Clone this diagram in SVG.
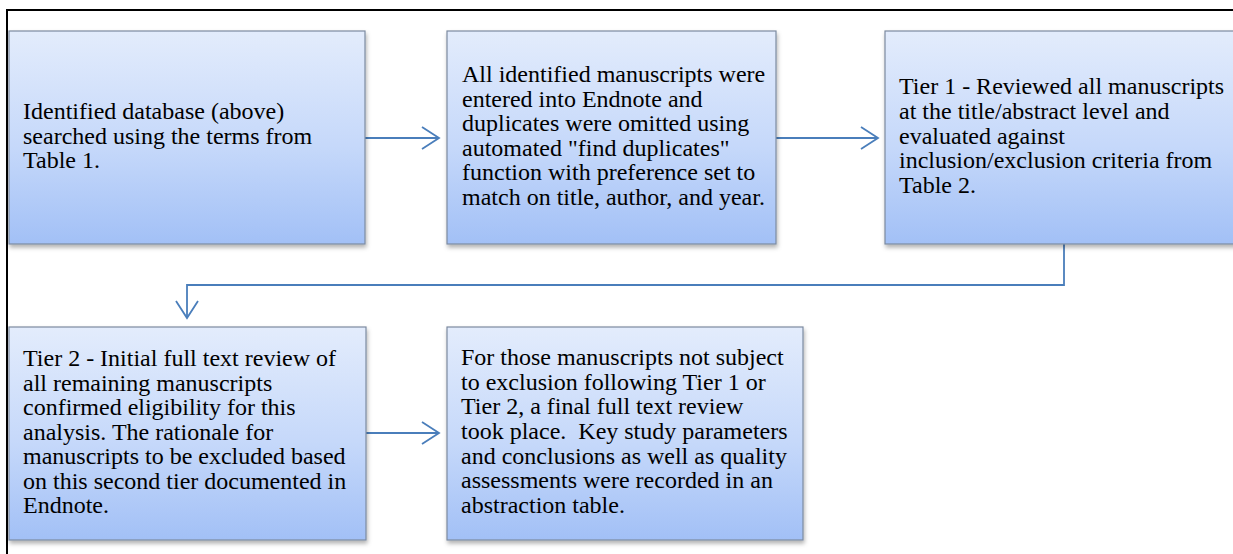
<svg xmlns="http://www.w3.org/2000/svg" width="1233" height="554" viewBox="0 0 1233 554">
<defs>
<linearGradient id="g" x1="0" y1="0" x2="0" y2="1">
<stop offset="0" stop-color="#e3ecfc"/>
<stop offset="0.55" stop-color="#c5d8fa"/>
<stop offset="1" stop-color="#a2c0f6"/>
</linearGradient>
<filter id="sh" x="-5%" y="-5%" width="115%" height="120%">
<feDropShadow dx="1" dy="3" stdDeviation="2" flood-color="#000" flood-opacity="0.3"/>
</filter>
<marker id="ah" viewBox="0 0 20 24" refX="18" refY="12" markerWidth="20" markerHeight="24" markerUnits="userSpaceOnUse" orient="auto">
<path d="M1,1 L18,12 L1,23" fill="none" stroke="#4a7ebb" stroke-width="1.8"/>
</marker>
<style>
.box{fill:url(#g);stroke:#7c8aa0;stroke-width:1.2;filter:url(#sh)}
.t{font-family:"Liberation Serif","Times New Roman",serif;font-size:24px;fill:#000;white-space:pre}
.c{fill:none;stroke:#4a7ebb;stroke-width:1.8}
</style>
</defs>
<rect x="0" y="0" width="1233" height="554" fill="#fff"/>
<rect x="7" y="10" width="1240" height="560" fill="none" stroke="#000" stroke-width="2"/>
<g id="connectors">
<path class="c" d="M365,138 H439" marker-end="url(#ah)"/>
<path class="c" d="M776,138 H878" marker-end="url(#ah)"/>
<path class="c" d="M1064,244 V285 H187 V318" marker-end="url(#ah)"/>
<path class="c" d="M366,433 H439" marker-end="url(#ah)"/>
</g>
<g id="n1">
<rect class="box" x="9" y="31" width="356" height="213"/>
<text class="t" x="23" y="119">Identified database (above)</text>
<text class="t" x="23" y="144">searched using the terms from</text>
<text class="t" x="23" y="168">Table 1.</text>
</g>
<g id="n2">
<rect class="box" x="447" y="31" width="329" height="213"/>
<text class="t" x="462" y="82">All identified manuscripts were</text>
<text class="t" x="462" y="107">entered into Endnote and</text>
<text class="t" x="462" y="131">duplicates were omitted using</text>
<text class="t" x="462" y="156">automated "find duplicates"</text>
<text class="t" x="462" y="180">function with preference set to</text>
<text class="t" x="462" y="205">match on title, author, and year.</text>
</g>
<g id="n3">
<rect class="box" x="885" y="31" width="370" height="213"/>
<text class="t" x="899" y="94">Tier 1 - Reviewed all manuscripts</text>
<text class="t" x="899" y="119">at the title/abstract level and</text>
<text class="t" x="899" y="144">evaluated against</text>
<text class="t" x="899" y="168">inclusion/exclusion criteria from</text>
<text class="t" x="899" y="193">Table 2.</text>
</g>
<g id="n4">
<rect class="box" x="9" y="327" width="357" height="213"/>
<text class="t" x="23" y="366">Tier 2 - Initial full text review of</text>
<text class="t" x="23" y="391">all remaining manuscripts</text>
<text class="t" x="23" y="415">confirmed eligibility for this</text>
<text class="t" x="23" y="440">analysis. The rationale for</text>
<text class="t" x="23" y="464">manuscripts to be excluded based</text>
<text class="t" x="23" y="489">on this second tier documented in</text>
<text class="t" x="23" y="513">Endnote.</text>
</g>
<g id="n5">
<rect class="box" x="447" y="327" width="356" height="213"/>
<text class="t" x="461" y="365">For those manuscripts not subject</text>
<text class="t" x="461" y="390">to exclusion following Tier 1 or</text>
<text class="t" x="461" y="414">Tier 2, a final full text review</text>
<text class="t" x="461" y="439">took place.  Key study parameters</text>
<text class="t" x="461" y="464">and conclusions as well as quality</text>
<text class="t" x="461" y="488">assessments were recorded in an</text>
<text class="t" x="461" y="513">abstraction table.</text>
</g>
</svg>
